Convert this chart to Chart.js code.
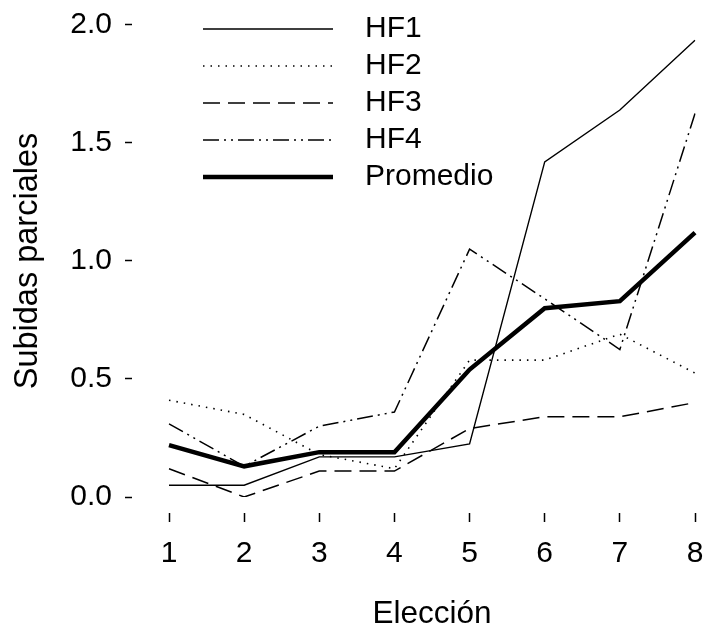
<!DOCTYPE html>
<html>
<head>
<meta charset="utf-8">
<script src="https://cdn.jsdelivr.net/npm/chart.js@4/dist/chart.umd.min.js"></script>
<style>
  html, body { margin: 0; padding: 0; background: #fff; }
  canvas { display: block; }
</style>
</head>
<body>
<canvas id="chart" width="710" height="628"></canvas>
<script>
// Elección (x categories)
const elecciones = ['1', '2', '3', '4', '5', '6', '7', '8'];

// Subidas parciales per series
const hf1      = [0.05, 0.05, 0.17, 0.17, 0.225, 1.42, 1.64, 1.935];
const hf2      = [0.41, 0.35, 0.18, 0.12, 0.58, 0.58, 0.69, 0.525];
const hf3      = [0.12, 0.00, 0.11, 0.11, 0.29, 0.34, 0.34, 0.40];
const hf4      = [0.31, 0.13, 0.30, 0.36, 1.05, 0.84, 0.625, 1.625];
const promedio = [0.22, 0.13, 0.19, 0.19, 0.54, 0.80, 0.83, 1.12];

const seriesNames = ['HF1', 'HF2', 'HF3', 'HF4', 'Promedio'];
const yTitle = 'Subidas parciales';
const xTitle = 'Elección';

const FONT = "'Liberation Sans', Arial, Helvetica, sans-serif";
const INK = '#000';

// Legend sample: a blank lead-in, the visible stroke, then a blank gap before the text
const LEGEND_LEAD = 27;
const LEGEND_STROKE = 130;
const LEGEND_BOX = 174;

function legendDash(base) {
  const out = [0, LEGEND_LEAD];
  if (!base || !base.length) {
    out.push(LEGEND_STROKE, 1000);
    return out;
  }
  const n = base.length;
  let t = 0, i = 0;
  while (true) {
    const on = base[i % n], off = base[(i + 1) % n];
    if (t + on >= LEGEND_STROKE) { out.push(LEGEND_STROKE - t, 1000); break; }
    if (t + on + off >= LEGEND_STROKE) { out.push(on, 1000); break; }
    out.push(on, off);
    t += on + off;
    i += 2;
  }
  return out;
}

function lineSet(label, data, width, dash, order) {
  return {
    label, data,
    borderColor: INK,
    backgroundColor: 'transparent',
    borderWidth: width,
    borderDash: dash,
    borderCapStyle: 'butt',
    borderJoinStyle: 'miter',
    pointRadius: 0,
    pointHoverRadius: 0,
    tension: 0,
    fill: false,
    order
  };
}

// Vertical axis title, centred on the 0.0–2.0 tick span
const yTitlePlugin = {
  id: 'yTitle',
  afterDraw(chart) {
    const y = chart.scales.y;
    const top = y.getPixelForValue(2);
    const bottom = y.getPixelForValue(0);
    const ctx = chart.ctx;
    ctx.save();
    ctx.translate(28, (top + bottom) / 2);
    ctx.rotate(-Math.PI / 2);
    ctx.font = `32.5px ${FONT}`;
    ctx.fillStyle = INK;
    ctx.textAlign = 'center';
    ctx.textBaseline = 'middle';
    ctx.fillText(yTitle, 0, 0);
    ctx.restore();
  }
};

new Chart(document.getElementById('chart'), {
  type: 'line',
  data: {
    labels: elecciones,
    datasets: [
      lineSet(seriesNames[0], hf1, 1.4, [], 1),
      lineSet(seriesNames[1], hf2, 1.6, [1.5, 6], 2),
      lineSet(seriesNames[2], hf3, 1.5, [17, 8], 3),
      lineSet(seriesNames[3], hf4, 1.5, [16, 5, 2, 5, 2, 5], 4),
      lineSet(seriesNames[4], promedio, 4.5, [], 0)
    ]
  },
  plugins: [yTitlePlugin],
  options: {
    responsive: false,
    animation: false,
    devicePixelRatio: 1,
    layout: { padding: { top: 14, right: 15, bottom: 0, left: 0 } },
    plugins: {
      tooltip: { enabled: false },
      legend: {
        position: 'chartArea',
        align: 'start',
        // empty title used only as a 7px spacer above the first entry
        title: { display: true, text: '', padding: 0, font: { size: 1, lineHeight: '7px' } },
        labels: {
          usePointStyle: true,
          pointStyle: 'line',
          pointStyleWidth: LEGEND_BOX,
          padding: 7,
          color: INK,
          font: { family: FONT, size: 30 },
          generateLabels(chart) {
            const items = Chart.defaults.plugins.legend.labels.generateLabels(chart);
            items.sort((a, b) => a.datasetIndex - b.datasetIndex);
            return items.map(it => {
              const ds = chart.data.datasets[it.datasetIndex];
              return Object.assign(it, {
                lineWidth: ds.borderWidth,
                strokeStyle: ds.borderColor,
                lineDash: legendDash(ds.borderDash)
              });
            });
          }
        }
      }
    },
    scales: {
      x: {
        type: 'category',
        offset: false,
        border: { display: false },
        grid: {
          display: true,
          drawOnChartArea: false,
          drawTicks: true,
          tickLength: 25,
          tickWidth: 1.5,
          tickColor: INK,
          tickBorderDash: [0, 16, 9, 100]
        },
        ticks: {
          padding: 14,
          color: INK,
          maxRotation: 0,
          autoSkip: false,
          font: { family: FONT, size: 30 }
        },
        title: {
          display: true,
          text: xTitle,
          color: INK,
          padding: 0,
          font: { family: FONT, size: 31.5, lineHeight: 0.9 }
        },
        afterFit(scale) {
          scale.height = 131;
          scale.paddingLeft = 0;
          scale.paddingRight = 0;
        }
      },
      y: {
        min: 0,
        max: 2.0466,
        border: { display: false },
        grid: {
          display: true,
          drawOnChartArea: false,
          drawTicks: true,
          tickLength: 44,
          tickWidth: 1.5,
          tickColor: INK,
          tickBorderDash: [7, 100]
        },
        ticks: {
          stepSize: 0.5,
          includeBounds: false,
          padding: 13,
          color: INK,
          font: { family: FONT, size: 30 },
          callback: (v) => Number(v).toFixed(1)
        },
        title: { display: false },
        afterFit(scale) {
          scale.width = 169;
          scale.paddingTop = 0;
          scale.paddingBottom = 0;
        }
      }
    }
  }
});
</script>
</body>
</html>
